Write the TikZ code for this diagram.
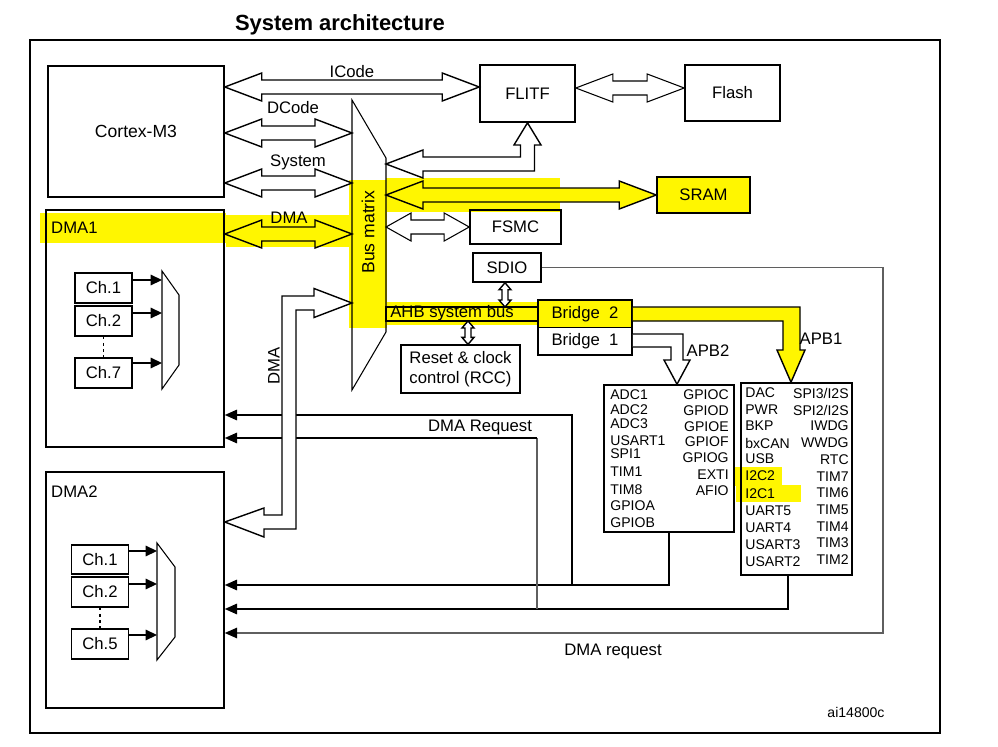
\documentclass[tikz,border=0pt]{standalone}
\usepackage{fontspec}
\setmainfont{Liberation Sans}
\usetikzlibrary{calc,arrows.meta}

\definecolor{hl}{RGB}{255,246,0}
\definecolor{wire}{RGB}{95,95,95}

% hollow two-way bus arrow: [head length]{style}{left tip}{right tip}
\newcommand{\hbus}[4][37]{%
  \draw[#2] #3 -- ++(#1,-14) -- ++(0,7) -- ($#4+(-#1,-7)$) -- ++(0,-7) -- #4
    -- ++(-#1,14) -- ++(0,-7) -- ($#3+(#1,7)$) -- ++(0,7) -- cycle;}
% small upright two-way arrow: {top tip}{bottom tip}
\newcommand{\vbus}[2]{%
  \draw[bus] #1 -- ++(-6,7) -- ++(3,0) -- ($#2+(-3,-7)$) -- ++(-3,0) -- #2
    -- ++(6,-7) -- ++(-3,0) -- ($#1+(3,7)$) -- ++(3,0) -- cycle;}

\tikzset{
  box/.style={draw, line width=0.9pt, inner sep=0pt},
  wh/.style 2 args={minimum width=#1*0.02cm, minimum height=#2*0.02cm},
  bus/.style={draw, line width=0.8pt, fill=white},
  busy/.style={bus, fill=hl},
  chan/.style={line width=0.9pt, -{Triangle[length=6.5pt,width=6pt]}},
  req/.style={line width=0.9pt, -{Triangle[length=7pt,width=6pt]}},
  reqg/.style={line width=0.6pt, draw=wire, -{Triangle[length=7pt,width=6pt,color=black]}},
  per/.style={font=\fontsize{8}{9}\selectfont, inner sep=0pt},
}

\begin{document}
\begin{tikzpicture}[x=0.02cm, y=-0.02cm, every node/.style={font=\fontsize{9.5}{11.5}\selectfont}]
\useasboundingbox (0,0) rectangle (998,747);

% highlighter marks
\fill[hl] (40,213) rectangle (226,243);
\fill[hl] (226,215) rectangle (352,247);
\fill[hl] (349,180) rectangle (387,328);
\fill[hl] (386,178) rectangle (560,212);
\fill[hl] (386,302) rectangle (538,325);
\fill[hl] (733,467) rectangle (782,486);
\fill[hl] (736,485) rectangle (801,502);

% frame and title
\node[font=\bfseries\fontsize{12.5}{15}\selectfont] (title) at (340,25) {System architecture};
\draw[line width=1.1pt] (30,40) rectangle (940,733);

% masters
\node[box, wh={176}{131}, font=\fontsize{10}{12}\selectfont] (cortex) at (136,131.5) {Cortex-M3};
\node[box, wh={178}{237}] (dma1) at (135,328.5) {};
\node[anchor=west] (dma1l) at (45,228) {DMA1};
\node[box, wh={178}{236}] (dma2) at (135,590) {};
\node[anchor=west] (dma2l) at (45,492) {DMA2};

% DMA1 channels
\node[box, wh={57}{30}] (a1) at (103.5,288) {Ch.1};
\node[box, wh={57}{30}] (a2) at (103.5,321) {Ch.2};
\node[box, wh={57}{30}] (a7) at (103.5,373) {Ch.7};
\draw[line width=0.9pt, dash pattern=on 1.5pt off 2pt] (a2) -- (a7);
\draw[line width=0.6pt] (162,271) coordinate (m1) -- (179,295) -- (179,365) -- (162,389) -- cycle;
\draw[chan] (a1.east |- 0,280) -- (m1 |- 0,280);
\draw[chan] (a2.east |- 0,313) -- (m1 |- 0,313);
\draw[chan] (a7.east |- 0,363) -- (m1 |- 0,363);

% DMA2 channels
\node[box, wh={57}{29}] (b1) at (100,559.5) {Ch.1};
\node[box, wh={57}{30}] (b2) at (100,592) {Ch.2};
\node[box, wh={57}{30}] (b5) at (100,644) {Ch.5};
\draw[line width=0.9pt, dash pattern=on 1.5pt off 2pt] (b2) -- (b5);
\draw[line width=0.6pt] (157,543) coordinate (m2) -- (175,567) -- (175,637) -- (157,660) -- cycle;
\draw[chan] (b1.east |- 0,551) -- (m2 |- 0,551);
\draw[chan] (b2.east |- 0,584) -- (m2 |- 0,584);
\draw[chan] (b5.east |- 0,635) -- (m2 |- 0,635);

% slaves
\node[box, wh={95}{57}] (flitf) at (527.5,93.5) {FLITF};
\node[box, wh={95}{56}] (flash) at (732.5,93) {Flash};
\node[box, wh={93}{36}, fill=hl] (sram) at (703.5,195) {SRAM};
\node[box, wh={91}{34}] (fsmc) at (515.5,227) {FSMC};
\node[box, wh={68}{29}] (sdio) at (507,267.5) {SDIO};
\node[box, wh={119}{48}, align=center, line width=0.7pt] (rcc) at (460.5,369) {Reset \& clock\\control (RCC)};
\node[box, wh={94}{27.5}, fill=hl] (bridge2) at (585,313.75) {Bridge\ \ 2};
\node[box, wh={94}{27.5}] (bridge1) at (585,341.25) {Bridge\ \ 1};
\node[box, wh={130}{147}] (apb2p) at (669,458.5) {};
\node[box, wh={111}{192}] (apb1p) at (796.5,479) {};

% bus matrix
\draw[line width=0.6pt] (352,100) coordinate (bmtl) -- (386,158) coordinate (bmtr)
  -- (386,332) coordinate (bmbr) -- (352,390) coordinate (bmbl) -- cycle;
\node[rotate=90, font=\fontsize{10}{12}\selectfont] (bmlabel) at (368,232) {Bus matrix};

% buses from the core and DMA1
\hbus{bus}{(cortex.east |- 0,87)}{(flitf.west |- 0,87)}
\hbus{bus}{(cortex.east |- 0,133)}{(bmtl |- 0,133)}
\hbus{bus}{(cortex.east |- 0,183)}{(bmtl |- 0,183)}
\hbus{busy}{(dma1.east |- 0,234)}{(bmtl |- 0,234)}
\node (icode) at (352,72) {ICode};
\node (dcode) at (293,108) {DCode};
\node (sysl) at (298,162) {System};
\node (dmal) at (289,218) {DMA};

% buses to the slaves
\hbus{bus, line width=0.6pt}{(flitf.east |- 0,88)}{(flash.west |- 0,88)}
\hbus{busy}{(bmtr |- 0,195)}{(sram.west)}
\hbus[25]{bus, line width=0.6pt}{(bmtr |- 0,227)}{(fsmc.west)}
\draw[bus] (bmtr |- 0,164) -- (423,150) -- (423,157) -- (520.5,157) -- (520.5,145)
  -- (514,145) -- (flitf.south) -- (541,145) -- (534.5,145) -- (534.5,171)
  -- (423,171) -- (423,178) -- cycle;

% AHB and the bridges
\coordinate (ahbt) at (386,307);
\coordinate (ahbb) at (386,321);
\draw[bus, fill=hl] (ahbt) rectangle (bridge2.west |- ahbb);
\node (ahb) at (452,313) {AHB system bus};
\vbus{(sdio.south -| 505,0)}{(ahbt -| 505,0)}
\vbus{(ahbb -| 468,0)}{(rcc.north -| 468,0)}
\draw[bus, fill=hl] (bridge2.east |- ahbt) -- (800,307) -- (800,350) -- (805,350)
  -- (apb1p.north -| 791,0) -- (777,350) -- (783,350) -- (783,321) -- (bridge2.east |- ahbb);
\draw[bus] (bridge1.east |- 0,334) -- (683,334) -- (683,360) -- (690,360)
  -- (apb2p.north -| 677,0) -- (664,360) -- (671,360) -- (671,347) -- (bridge1.east |- 0,347);
\node (apb2l) at (708,351) {APB2};
\node (apb1l) at (821,339) {APB1};

% APB2 peripherals
\foreach \t/\y [count=\i] in {ADC1/395, ADC2/410, ADC3/424, USART1/441, SPI1/454, TIM1/472, TIM8/490, GPIOA/506, GPIOB/523}
  \node[per, anchor=west] (pl\i) at (610,\y) {\t};
\foreach \t/\y [count=\i] in {GPIOC/395, GPIOD/411, GPIOE/427, GPIOF/442, GPIOG/458, EXTI/475, AFIO/491}
  \node[per, anchor=east] (pr\i) at (729,\y) {\t};

% APB1 peripherals
\foreach \t/\y [count=\i] in {DAC/393, PWR/410, BKP/426, bxCAN/443, USB/459, I2C2/476, I2C1/494, UART5/511, UART4/528, USART3/545, USART2/562}
  \node[per, anchor=west] (ql\i) at (745,\y) {\t};
\foreach \t/\y [count=\i] in {{SPI3/I2S}/393, {SPI2/I2S}/410, IWDG/426, WWDG/443, RTC/460, TIM7/477, TIM6/493, TIM5/510, TIM4/527, TIM3/543, TIM2/560}
  \node[per, anchor=east] (qr\i) at (849,\y) {\t};

% DMA requests
\coordinate (j1) at (572,585);
\coordinate (j2) at (537,609);
\draw[req] (apb2p.south) |- (dma2.east |- j1);
\draw[req] (j1) |- (dma1.east |- 0,415);
\draw[req] (apb1p.south -| 788,0) |- (dma2.east |- j2);
\draw[line width=0.6pt, draw=wire] (j2) -- (j2 |- 0,438);
\draw[req] (j2 |- 0,438) -- (dma1.east |- 0,438);
\draw[reqg] (sdio.east) -| (883,633) -- (dma2.east |- 0,633);
\node (rq1) at (480,427) {DMA Request};
\node (rq2) at (613,651) {DMA request};

% DMA2 bus
\draw[bus] (bmtl |- 0,303) -- (314,288.5) -- (314,296) -- (282,296) -- (282,515)
  -- (264,515) -- (264,508) -- (dma2.east |- 0,522) -- (264,537) -- (264,529)
  -- (296,529) -- (296,310) -- (314,310) -- (314,317.5) -- cycle;
\node[rotate=90] (dmal2) at (274,366) {DMA};

\node[font=\fontsize{8}{9}\selectfont] (ref) at (856,712) {ai14800c};
\end{tikzpicture}
\end{document}
